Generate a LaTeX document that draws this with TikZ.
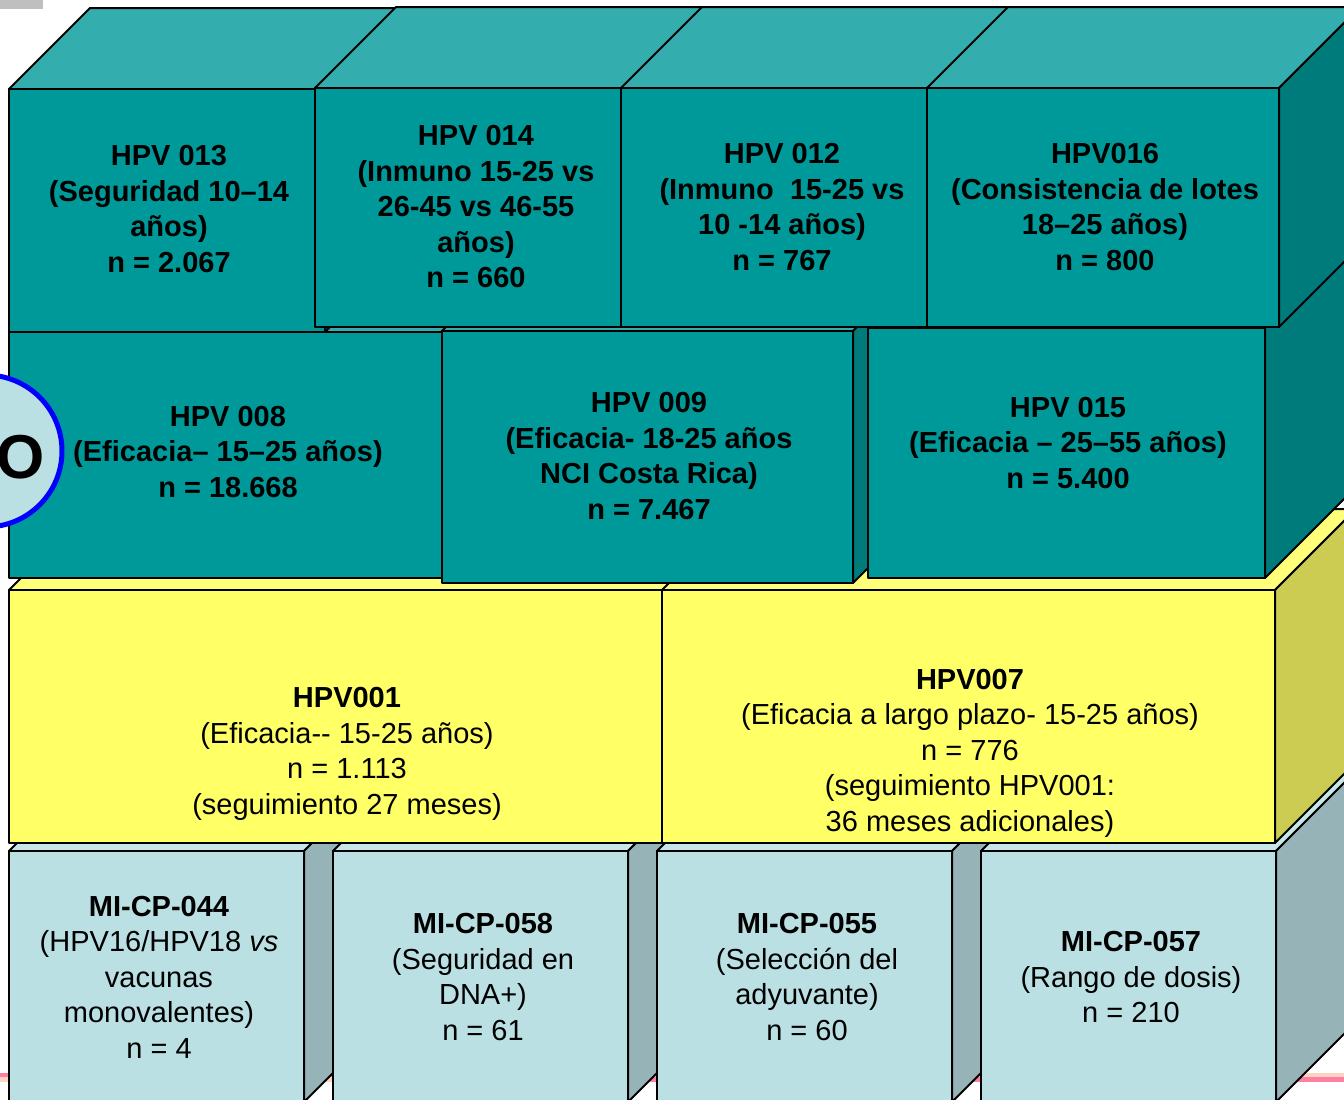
\documentclass[tikz,border=0pt]{standalone}
\usepackage{fontspec}
\setmainfont{Liberation Sans}
\usetikzlibrary{arrows.meta, positioning, calc}

\definecolor{verdeF}{HTML}{009999}
\definecolor{verdeT}{HTML}{33ADAD}
\definecolor{verdeS}{HTML}{007B7B}
\definecolor{amarF}{HTML}{FFFF66}
\definecolor{amarT}{HTML}{FFFF7A}
\definecolor{amarS}{HTML}{CCCC52}
\definecolor{celesF}{HTML}{BAE0E3}
\definecolor{celesT}{HTML}{C6E6E9}
\definecolor{celesS}{HTML}{96B4B7}
\definecolor{rosa}{HTML}{FF7FA0}
\definecolor{melon}{HTML}{FFD3C4}

\begin{document}
\begin{tikzpicture}[x=0.5pt, y=-0.5pt, line cap=round, line join=round]
	\def\d{81}
	
	\tikzset{
		borde/.style={draw=black, line width=1pt},
		txt/.style={align=center, inner sep=0pt, font=\fontsize{14.5}{17.75}\selectfont},
		txtb/.style={txt, font=\fontsize{14.5}{17.75}\selectfont\bfseries},
		circ/.style={draw=blue, line width=2.5pt, fill=celesF}
	}
	
	\newcommand{\cubo}[5]{% x,y,ancho,alto,color
		\draw[borde, fill=#5T] (#1,#2) -- ++(\d,-\d) -- ++(#3,0) -- ++(-\d,\d) -- cycle;
		\draw[borde, fill=#5S] ({#1+#3},#2) -- ++(\d,-\d) -- ++(0,#4) -- ++(-\d,\d) -- cycle;
		\draw[borde, fill=#5F] (#1,#2) rectangle ++(#3,#4);
	}
	
	\useasboundingbox (0,0) rectangle (1344,1099);
	\clip (0,0) rectangle (1344,1099);
	
	% fondo
	\fill[black!25] (0,0) rectangle (43,9);
	\fill[rosa] (0,1073) rectangle (600,1077);
	\fill[melon] (0,1077) rectangle (600,1082);
	\fill[melon] (600,1073) rectangle (1344,1077);
	\fill[rosa] (600,1077) rectangle (1344,1082);
	
	% fila inferior
	\cubo{9}{851}{295}{251}{celes}
	\cubo{333}{851}{295}{251}{celes}
	\cubo{657}{851}{295}{251}{celes}
	\cubo{981}{851}{295}{251}{celes}
	
	% fila amarilla
	\cubo{9}{590}{676}{253}{amar}
	\cubo{662}{590}{613}{253}{amar}
	
	% fila media
	\cubo{9}{332}{440}{246}{verde}
	\cubo{442}{331}{411}{252}{verde}
	\cubo{868}{328}{397}{250}{verde}
	
	% fila superior
	\cubo{9}{89}{316}{243}{verde}
	\cubo{315}{88}{322}{239}{verde}
	\cubo{621}{88}{322}{239}{verde}
	\cubo{927}{88}{352}{239}{verde}
	
	\draw[circ] (-14,451) circle[radius=76];
	\node[font=\fontsize{31}{37}\selectfont\bfseries, inner sep=0pt] (letraO) at (21,457) {O};
	
	\node[txtb] (h013) at (169,209) {HPV 013\\(Seguridad 10–14\\años)\\n = 2.067};
	\node[txtb] (h014) at (476,207) {HPV 014\\(Inmuno 15-25 vs\\26-45 vs 46-55\\años)\\n = 660};
	\node[txtb] (h012) at (782,207) {HPV 012\\(Inmuno~ 15-25 vs\\10 -14 años)\\n = 767};
	\node[txtb] (h016) at (1105,207) {HPV016\\(Consistencia de lotes\\18–25 años)\\n = 800};
	
	\node[txtb] (h008) at (228,452) {HPV 008\\(Eficacia– 15–25 años)\\n = 18.668};
	\node[txtb] (h009) at (649,456) {HPV 009\\(Eficacia- 18-25 años\\NCI Costa Rica)\\n = 7.467};
	\node[txtb] (h015) at (1068,443) {HPV 015\\(Eficacia – 25–55 años)\\n = 5.400};
	
	\node[txt] (h001) at (347,754) {\textbf{HPV001}\\(Eficacia-{}- 15-25 años)\\n = 1.113\\(seguimiento 27 meses)};
	\node[txt] (h007) at (970,753) {\textbf{HPV007}\\(Eficacia a largo plazo- 15-25 años)\\n = 776\\(seguimiento HPV001:\\36 meses adicionales)};
	
	\node[txt] (m044) at (159,977) {\textbf{MI-CP-044}\\(HPV16/HPV18 \textit{vs}\\vacunas\\monovalentes)\\n = 4};
	\node[txt] (m058) at (483,977) {\textbf{MI-CP-058}\\(Seguridad en\\DNA+)\\n = 61};
	\node[txt] (m055) at (807,977) {\textbf{MI-CP-055}\\(Selección del\\adyuvante)\\n = 60};
	\node[txt] (m057) at (1131,977) {\textbf{MI-CP-057}\\(Rango de dosis)\\n = 210};
	
\end{tikzpicture}
\end{document}
